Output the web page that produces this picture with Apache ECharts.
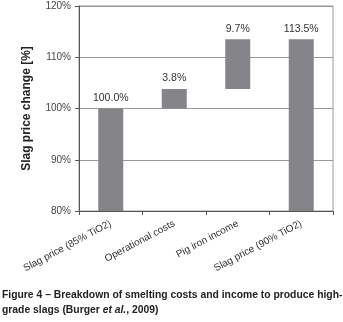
<!DOCTYPE html>
<html>
<head>
<meta charset="utf-8">
<script src="https://cdn.jsdelivr.net/npm/echarts@6/dist/echarts.min.js"></script>
<style>
  html, body { margin: 0; padding: 0; background: #fff; }
  #chart { width: 343px; height: 322px; }
</style>
</head>
<body>
<div id="chart"></div>
<script>
// waterfall: invisible base + visible step
const categories = ['Slag price (85% TiO2)', 'Operational costs', 'Pig iron income', 'Slag price (90% TiO2)'];
const baseValues = [0, 100, 103.8, 0];
const stepValues = [100, 3.8, 9.7, 113.5];
const yTicks = [80, 90, 100, 110, 120];

const captionFont = 'Liberation Sans, Arial, sans-serif';

const myChart = echarts.init(document.getElementById('chart'));
myChart.setOption({
  animation: false,
  graphic: [
    {
      type: 'text',
      x: 2,
      y: 287,
      scaleX: 0.9,
      style: {
        text: '{b|Figure 4 – Breakdown of smelting costs and income to produce high-}\n{b|grade slags (Burger }{i|et al.}{b|, 2009)}',
        rich: {
          b: { fontFamily: captionFont, fontWeight: 'bold', fontSize: 11.5, fill: '#222', lineHeight: 15 },
          i: { fontFamily: captionFont, fontWeight: 'bold', fontStyle: 'italic', fontSize: 11.5, fill: '#222', lineHeight: 15 }
        }
      }
    }
  ],
  grid: { left: 79, right: 10, top: 6, bottom: 111, show: true, borderColor: '#999', borderWidth: 1 },
  xAxis: {
    type: 'category',
    data: categories,
    axisLine: { lineStyle: { color: '#555' } },
    axisTick: { show: true, length: 4, lineStyle: { color: '#555' } },
    axisLabel: { rotate: 28, color: '#333', fontSize: 10, fontFamily: 'Liberation Sans, Arial, sans-serif', margin: 12, interval: 0 }
  },
  yAxis: {
    type: 'value',
    min: yTicks[0],
    max: yTicks[yTicks.length - 1],
    interval: 10,
    name: 'Slag price change [%]',
    nameLocation: 'middle',
    nameGap: 46,
    nameTextStyle: { fontFamily: 'Liberation Sans, Arial, sans-serif', fontWeight: 'bold', fontSize: 12, color: '#222' },
    axisLine: { show: true, lineStyle: { color: '#555' } },
    axisTick: { show: true, length: 4, lineStyle: { color: '#555' } },
    splitLine: { lineStyle: { color: '#999' } },
    axisLabel: { formatter: '{value}%', color: '#444', fontSize: 10, fontFamily: 'Liberation Sans, Arial, sans-serif', margin: 8 }
  },
  series: [
    {
      type: 'bar',
      stack: 'w',
      data: baseValues,
      itemStyle: { color: 'transparent' },
      barWidth: 25,
      silent: true
    },
    {
      type: 'bar',
      stack: 'w',
      data: stepValues,
      barWidth: 25,
      itemStyle: { color: '#858589' },
      label: {
        show: true,
        position: 'top',
        distance: 5,
        color: '#333',
        fontSize: 10.5,
        fontFamily: 'Liberation Sans, Arial, sans-serif',
        formatter: p => p.value.toFixed(1) + '%'
      }
    }
  ]
});

window.addEventListener('resize', function() {
  myChart.resize();
});
</script>
</body>
</html>
